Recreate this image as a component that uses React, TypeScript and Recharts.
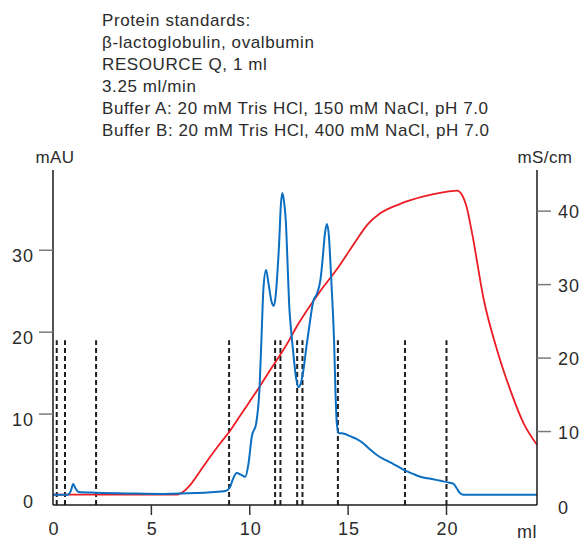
import { ComposedChart, Line, XAxis, YAxis, ReferenceLine } from 'recharts';

// UV absorbance trace (blue, left axis)
const uvVolume = [
  0, 0.75, 0.9, 1.03, 1.15, 1.3, 2.2, 4.0, 5.6, 7.3, 8.0, 8.8, 9.0, 9.15, 9.34, 9.55, 9.77, 9.94,
  10.1, 10.33, 10.5, 10.61, 10.7, 10.83, 10.95, 11.1, 11.22, 11.32, 11.38, 11.5, 11.58, 11.66,
  11.75, 11.84, 11.92, 12.0, 12.1, 12.2, 12.35, 12.48, 12.6, 12.73, 12.88, 13.02, 13.24, 13.4,
  13.6, 13.7, 13.82, 13.92, 14.02, 14.1, 14.18, 14.29, 14.36, 14.42, 14.51, 14.8, 15.1, 15.4,
  15.78, 16.1, 16.46, 16.9, 17.3, 17.9, 18.3, 18.67, 19.2, 19.7, 20.1, 20.35, 20.5, 20.65, 20.85,
  22.0, 24.6,
];
const uvAbs = [
  0.15, 0.15, 0.6, 1.45, 0.9, 0.5, 0.4, 0.3, 0.25, 0.35, 0.45, 0.65, 1.1, 2.1, 2.8, 2.6, 2.35, 4.0,
  7.2, 8.9, 13.3, 20.2, 25.5, 27.6, 26.0, 23.8, 23.2, 24.5, 26.3, 31.2, 35.5, 37.0,
  35.8, 33.3, 28.5, 23.5, 20.3, 17.8, 14.5, 13.3, 13.8, 15.4, 18.2, 20.6, 23.9, 24.6,
  26.5, 28.8, 32.0, 33.2, 31.8, 28.5, 24.7, 18.6, 12.5, 9.0, 7.7, 7.6, 7.3, 7.0,
  6.4, 5.7, 5.0, 4.4, 3.9, 3.1, 2.7, 2.35, 2.1, 1.85, 1.65, 1.5, 1.0, 0.45, 0.15,
  0.15, 0.15,
];

// Conductivity trace (red, right axis)
const condVolume = [
  0, 6.3, 6.5, 6.75, 7.0, 7.5, 8.0, 8.5, 9.0, 9.5, 10.0, 10.5, 11.0, 11.8, 12.48, 13.5, 14.51,
  15.36, 15.96, 16.63, 17.65, 18.84, 19.68, 20.53, 20.79, 21.0, 21.3, 21.89, 22.57, 23.25, 23.92,
  24.6,
];
const condValue = [
  1.4, 1.4, 1.6, 2.1, 2.8, 4.7, 6.6, 8.4, 10.1, 12.1, 14.1, 16.1, 18.2, 21.5, 24.7, 28.8, 32.4,
  35.8, 38.1, 39.7, 41.0, 42.0, 42.5, 42.8, 42.2, 40.8, 37.0, 28.0, 21.1, 15.6, 11.1,
  8.2,
];

// fraction marks (ml)
const fractions = [0.19, 0.61, 2.19, 8.95, 11.29, 11.56, 12.41, 12.68, 14.48, 17.89, 20.0];

const xTicks = [0, 5, 10, 15, 20];
const leftTicks = [0, 10, 20, 30];
const rightTicks = [0, 10, 20, 30, 40];

const headerLines = [
  'Protein standards:',
  'β-lactoglobulin, ovalbumin',
  'RESOURCE Q, 1 ml',
  '3.25 ml/min',
  'Buffer A: 20 mM Tris HCl, 150 mM NaCl, pH 7.0',
  'Buffer B: 20 mM Tris HCl, 400 mM NaCl, pH 7.0',
];

const uvData = uvVolume.map((v, i) => ({ ml: v, mAU: uvAbs[i] }));
const condData = condVolume.map((v, i) => ({ ml: v, mS: condValue[i] }));

const FONT = '"Liberation Sans", Arial, sans-serif';
const TEXT = '#2b2b2b';
const TICK = '#7a7a7a';
const LEFT_MIN = -1.1;

const LeftTick = ({ x, y, payload }: any) => (
  <g>
    {payload.value !== 0 && <line x1={x + 5} x2={x + 19} y1={y} y2={y} stroke={TICK} strokeWidth={1.5} />}
    <text x={x} y={y + 12} textAnchor="end" fontFamily={FONT} fontSize={18} letterSpacing={1} fill={TEXT}>
      {payload.value}
    </text>
  </g>
);

const RightTick = ({ x, y, payload }: any) => (
  <g>
    {payload.value !== 0 && <line x1={x - 21} x2={x - 7} y1={y} y2={y} stroke={TICK} strokeWidth={1.5} />}
    <text x={x} y={y + (payload.value === 0 ? 9 : 7)} textAnchor="start" fontFamily={FONT} fontSize={18} letterSpacing={1} fill={TEXT}>
      {payload.value}
    </text>
  </g>
);

const BottomTick = ({ x, y, payload }: any) => (
  <g>
    {payload.value !== 0 && <line x1={x} x2={x} y1={y - 12} y2={y - 2} stroke="#333" strokeWidth={1.5} />}
    <text x={x + 1} y={y + 18} textAnchor="middle" fontFamily={FONT} fontSize={18} letterSpacing={1} fill={TEXT}>
      {payload.value}
    </text>
  </g>
);

export default function App() {
  return (
    <div style={{ position: 'absolute', left: 0, top: 0, width: 581, height: 542, background: '#fff' }}>
      <ComposedChart width={581} height={542} margin={{ top: 170, right: 0, bottom: 0, left: 0 }}>
        <XAxis
          type="number"
          dataKey="ml"
          domain={[0, 24.6]}
          ticks={xTicks}
          allowDataOverflow
          height={37}
          tickSize={10}
          tickMargin={2}
          tickLine={false}
          tick={<BottomTick />}
          axisLine={{ stroke: '#1a1a1a', strokeWidth: 1.5 }}
        />
        <YAxis
          yAxisId="left"
          orientation="left"
          domain={[LEFT_MIN, 39.8]}
          ticks={leftTicks}
          allowDataOverflow
          width={53}
          tickSize={14}
          tickMargin={5}
          tickLine={false}
          tick={<LeftTick />}
          axisLine={{ stroke: '#1a1a1a', strokeWidth: 1.5 }}
        />
        <YAxis
          yAxisId="right"
          orientation="right"
          domain={[0, 45.6]}
          ticks={rightTicks}
          allowDataOverflow
          width={44}
          tickSize={14}
          tickMargin={7}
          tickLine={false}
          tick={<RightTick />}
          axisLine={{ stroke: '#1a1a1a', strokeWidth: 1.5 }}
        />
        {fractions.map((f) => (
          <ReferenceLine
            key={f}
            yAxisId="left"
            segment={[{ x: f, y: LEFT_MIN }, { x: f, y: 19 }]}
            stroke="#1f1f1f"
            strokeWidth={2}
            strokeDasharray="5 3"
          />
        ))}
        <Line
          yAxisId="right"
          data={condData}
          dataKey="mS"
          type="monotone"
          stroke="#ec1c24"
          strokeWidth={1.8}
          dot={false}
          isAnimationActive={false}
        />
        <Line
          yAxisId="left"
          data={uvData}
          dataKey="mAU"
          type="monotone"
          stroke="#0a6fc2"
          strokeWidth={2}
          dot={false}
          isAnimationActive={false}
        />
      </ComposedChart>
      <svg
        width={581}
        height={542}
        style={{ position: 'absolute', left: 0, top: 0, pointerEvents: 'none' }}
        fontFamily={FONT}
        fill={TEXT}
      >
        {headerLines.map((t, i) => (
          <text key={t} x={102} y={26 + i * 22} fontSize={17} letterSpacing={0.6}>
            {t}
          </text>
        ))}
        <text x={55} y={163} fontSize={17} textAnchor="middle" letterSpacing={0.4}>mAU</text>
        <text x={545} y={163} fontSize={17} textAnchor="middle" letterSpacing={0.4}>mS/cm</text>
        <text x={527} y={538} fontSize={18} textAnchor="middle" letterSpacing={0.4}>ml</text>
      </svg>
    </div>
  );
}
